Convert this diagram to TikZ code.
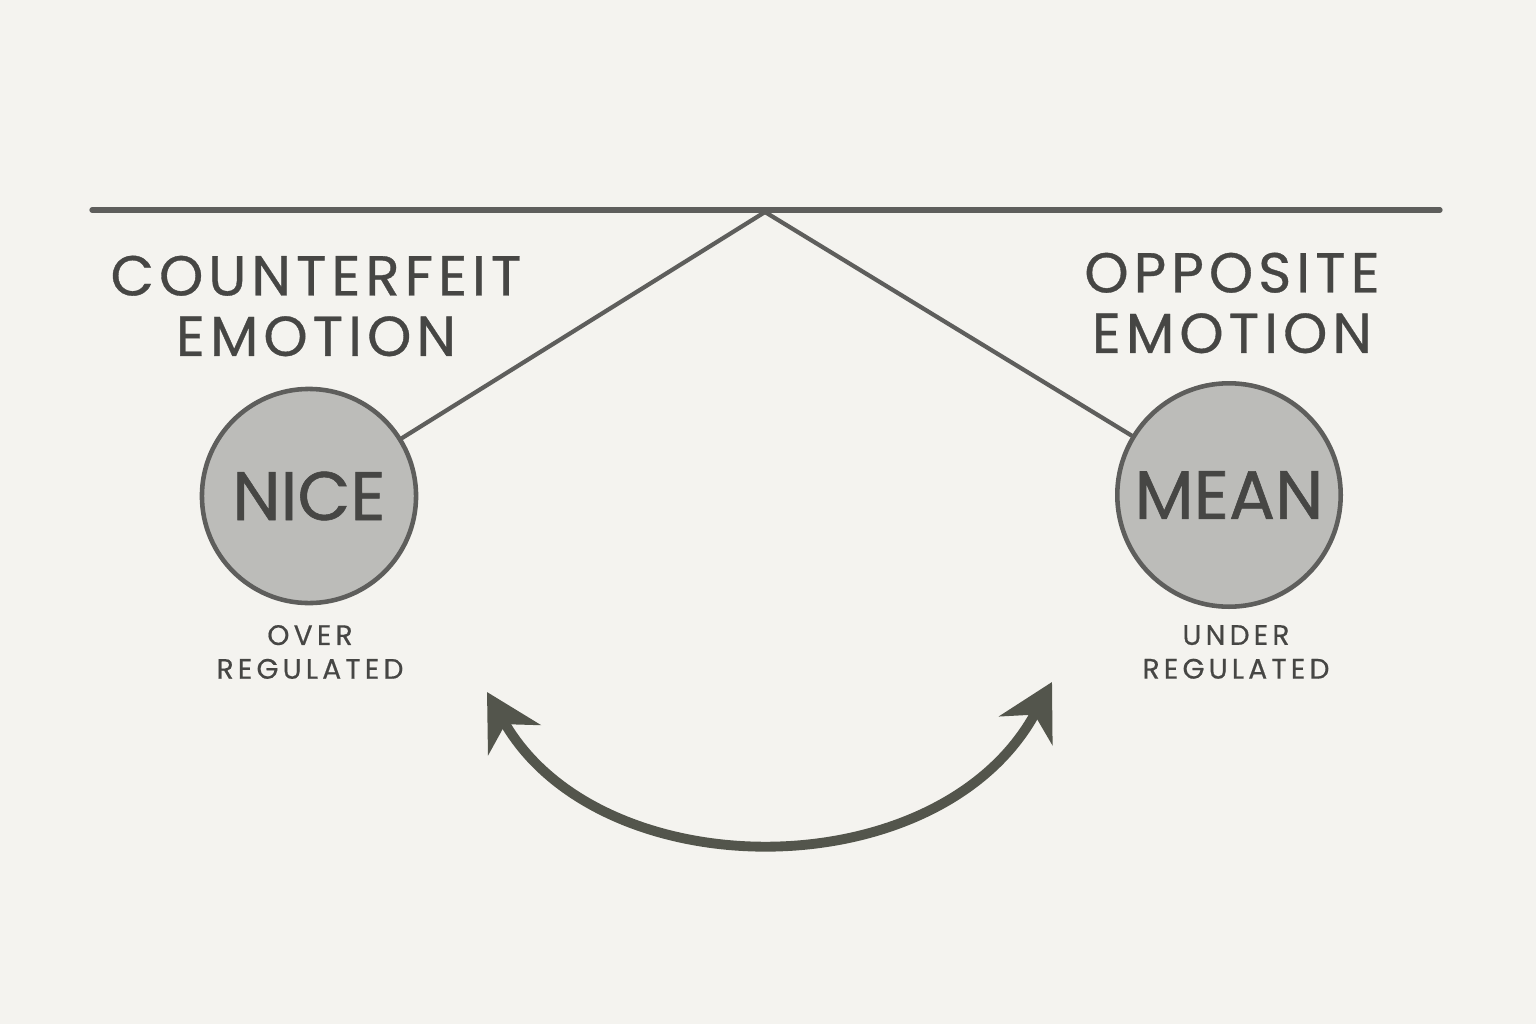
\documentclass[tikz,border=0pt]{standalone}
\usepackage{fontspec}
\setmainfont{Poppins}
\usetikzlibrary{arrows.meta}
\definecolor{paper}{HTML}{F4F3EF}
\definecolor{pencil}{HTML}{5E5E5C}
\definecolor{ink}{HTML}{464644}
\definecolor{shade}{HTML}{BCBCB9}
\definecolor{arrowc}{HTML}{53554C}
\tikzset{
  title/.style={text=ink, font=\fontsize{16}{17.2}\selectfont\addfontfeatures{LetterSpace=9,FakeBold=0.6}, align=center},
  emo/.style={circle, draw=pencil, line width=1.3pt, fill=shade, text=ink, font=\fontsize{19.5}{22}\selectfont\addfontfeatures{FakeBold=0.8}},
  sub/.style={text=ink, font=\fontsize{8}{9.6}\selectfont\addfontfeatures{LetterSpace=15,FakeBold=0.5}, align=center},
  rod/.style={draw=pencil, line width=1.2pt, line cap=round},
}
\begin{document}
\begin{tikzpicture}[x=0.01cm, y=-0.01cm]
\fill[paper] (0,0) rectangle (1536,1024);
\useasboundingbox (0,0) rectangle (1536,1024);
\coordinate (left) at (92,210);
\coordinate (right) at (1440,210);
\coordinate (pivot) at (765,212);
\draw[rod, line width=1.5pt] (left) -- (right);
\node[emo, minimum size=2.14cm] (nice) at (309,496) {NICE};
\node[emo, minimum size=2.22cm] (mean) at (1229,495) {MEAN};
\draw[rod] (pivot) -- (nice);
\draw[rod] (pivot) -- (mean);
\node[title] (cf) at (316,306) {COUNTERFEIT\\EMOTION};
\node[title] (op) at (1232,303) {OPPOSITE\\EMOTION};
\node[sub] (over) at (310,652) {OVER\\REGULATED};
\node[sub] (under) at (1236,652) {UNDER\\REGULATED};
\coordinate (a1) at (487,692);
\coordinate (a2) at (1052,682);
\draw[arrowc, line width=2.8pt, {Stealth[length=0.55cm, width=0.6cm, inset=0.18cm]}-{Stealth[length=0.55cm, width=0.6cm, inset=0.18cm]}]
  (a1) .. controls (600,890) and (940,890) .. (a2);
\end{tikzpicture}
\end{document}
